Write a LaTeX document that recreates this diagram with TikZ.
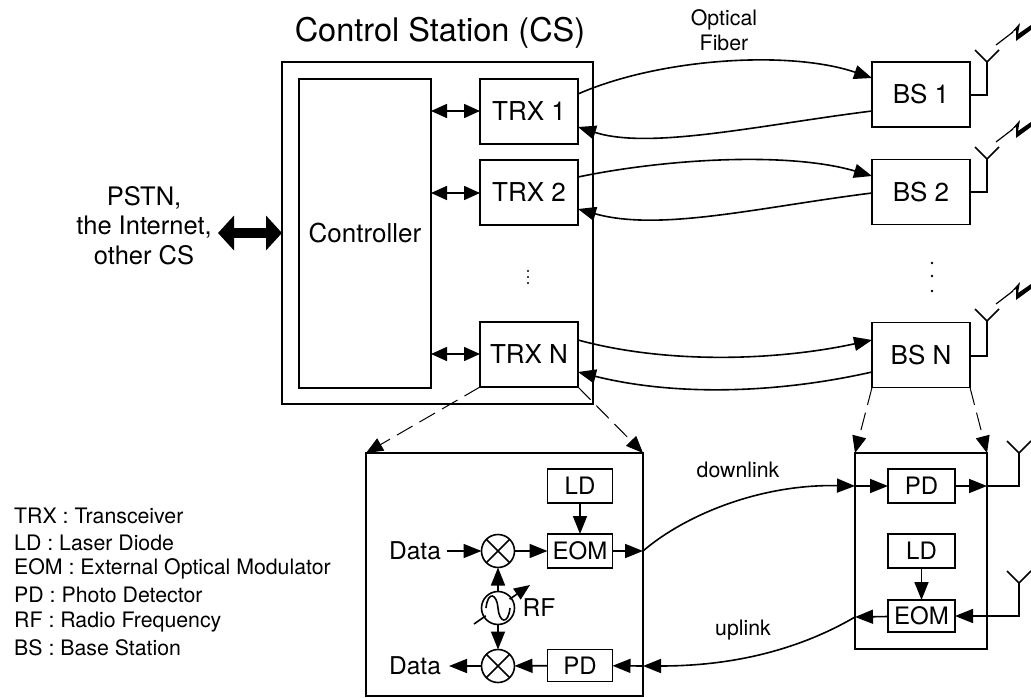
\documentclass[tikz,border=0pt]{standalone}
\usepackage{fontspec}
\setmainfont{TeX Gyre Heros}
\usetikzlibrary{arrows.meta}

\tikzset{
  blk/.style={draw,line width=1.6pt,inner sep=0pt,outer sep=0pt,rectangle,font=\fontsize{26}{26}\selectfont},
  smallblk/.style={blk,font=\fontsize{24}{24}\selectfont},
  mix/.style={draw,line width=1.6pt,circle,minimum size=33pt,inner sep=0pt,outer sep=0pt},
  lbl/.style={inner sep=0pt,font=\fontsize{25.5}{25.5}\selectfont},
  note/.style={inner sep=0pt,font=\fontsize{21.3}{21.3}\selectfont},
  wire/.style={line width=1.6pt},
  tip/.style={wire,-{Triangle[length=18pt,width=14pt]}},
  tips/.style={wire,{Triangle[length=16pt,width=14pt]}-{Triangle[length=16pt,width=14pt]}},
  zoomline/.style={line width=1pt,dash pattern=on 18pt off 8pt,-{Triangle[length=17pt,width=14pt]}},
}

\begin{document}
\begin{tikzpicture}[x=1pt,y=-1pt,line join=miter,line cap=butt]
\useasboundingbox (0,0) rectangle (1031,698);

% control station
\node[blk,minimum width=311pt,minimum height=342pt] (cs) at (437.5,233) {};
\node[blk,minimum width=132pt,minimum height=309pt] (ctrl) at (365,233.5) {Controller};
\node[blk,minimum width=98pt,minimum height=65pt] (trx1) at (529,111.5) {TRX 1};
\node[blk,minimum width=98pt,minimum height=65pt] (trx2) at (529,192.5) {TRX 2};
\node[blk,minimum width=98pt,minimum height=65pt] (trxn) at (529,354.5) {TRX N};

% base stations
\node[blk,minimum width=98pt,minimum height=65pt] (bs1) at (921,94.5) {BS 1};
\node[blk,minimum width=98pt,minimum height=65pt] (bs2) at (921,192) {BS 2};
\node[blk,minimum width=98pt,minimum height=65pt] (bsn) at (921,355) {BS N};

% transmitter detail
\node[blk,minimum width=277pt,minimum height=243pt] (txbox) at (504.5,574.5) {};
\node[smallblk,minimum width=65pt,minimum height=34pt] (ld1) at (580,486) {LD};
\node[smallblk,minimum width=65pt,minimum height=34pt] (eom1) at (580,551) {EOM};
\node[smallblk,minimum width=65pt,minimum height=32pt] (pd1) at (580,665.5) {PD};
\node[mix] (mix1) at (498,551) {};
\node[mix] (mix2) at (498,666) {};
\node[mix] (osc) at (498,608) {};

% base station detail
\node[blk,minimum width=132pt,minimum height=196pt] (rxbox) at (921,551) {};
\node[smallblk,minimum width=67pt,minimum height=34pt] (pd2) at (921.5,486) {PD};
\node[smallblk,minimum width=67pt,minimum height=34pt] (ld2) at (921.5,551) {LD};
\node[smallblk,minimum width=67pt,minimum height=32pt] (eom2) at (921.5,616) {EOM};

% texts
\node[lbl,font=\fontsize{32.5}{32.5}\selectfont] (title) at (440,33) {Control Station (CS)};
\node[lbl] (pstn) at (144,198) {PSTN,};
\node[lbl] (inet) at (144,227) {the Internet,};
\node[lbl] (other) at (144,255) {other CS};
\node[note] (opt) at (724,20) {Optical};
\node[note] (fib) at (724,43) {Fiber};
\node[note] (down) at (738,470) {downlink};
\node[note] (up) at (743,630) {uplink};
\node[lbl,font=\fontsize{24.5}{24.5}\selectfont] (data1) at (415,551) {Data};
\node[lbl,font=\fontsize{24.5}{24.5}\selectfont] (data2) at (415,666) {Data};
\node[lbl,font=\fontsize{24.5}{24.5}\selectfont] (rf) at (539,608) {RF};
\node[note,anchor=west] (key1) at (14,516) {TRX : Transceiver};
\node[note,anchor=west] (key2) at (14,543) {LD : Laser Diode};
\node[note,anchor=west] (key3) at (14,569) {EOM : External Optical Modulator};
\node[note,anchor=west] (key4) at (14,595) {PD : Photo Detector};
\node[note,anchor=west] (key5) at (14,622) {RF : Radio Frequency};
\node[note,anchor=west] (key6) at (14,648) {BS : Base Station};

% free ends
\coordinate (trx1o) at (578,94);
\coordinate (trx1i) at (578,127);
\coordinate (trx2o) at (578,177);
\coordinate (trx2i) at (578,209);
\coordinate (trxno) at (578,340);
\coordinate (trxni) at (578,372);
\coordinate (bs1i) at (872,78);
\coordinate (bs1o) at (872,111);
\coordinate (bs2i) at (872,176);
\coordinate (bs2o) at (872,193);
\coordinate (bsni) at (872,340);
\coordinate (bsno) at (872,372);
\coordinate (txo) at (643,551);
\coordinate (txi) at (643,666);
\coordinate (rxi) at (855,486);
\coordinate (rxo) at (855,617);
\coordinate (rxr1) at (987,486);
\coordinate (rxr2) at (987,616);
\coordinate (din) at (447,551);
\coordinate (dout) at (449,666);

% optical fibers
\draw[tip] (trx1o) .. controls (660,58) and (790,50) .. (bs1i);
\draw[tip] (bs1o) .. controls (760,125) and (650,150) .. (trx1i);
\draw[tip] (trx2o) .. controls (670,158) and (790,152) .. (bs2i);
\draw[tip] (bs2o) .. controls (760,207) and (660,232) .. (trx2i);
\draw[tip] (trxno) .. controls (670,365) and (780,360) .. (bsni);
\draw[tip] (bsno) .. controls (770,395) and (670,395) .. (trxni);

% controller links
\foreach \i/\y in {1/111,2/193,n/354}{
  \coordinate (cl\i) at (431,\y);
  \coordinate (tl\i) at (480,\y);
  \draw[tips] (cl\i)--(tl\i);
}
\coordinate (outer) at (218,233);
\draw[line width=10pt,{Triangle[length=16pt,width=34pt]}-{Triangle[length=16pt,width=34pt]}] (outer)--(cs.west);

% zoom arrows
\draw[zoomline] (trxn.south west)--(txbox.north west);
\draw[zoomline] (trxn.south east)--(txbox.north east);
\draw[zoomline] (bsn.south west)--(rxbox.north west);
\draw[zoomline] (bsn.south east)--(rxbox.north east);

% transmitter links
\draw[tip] (din)--(mix1);
\draw[tip] (mix1)--(eom1);
\draw[tip] (ld1)--(eom1);
\draw[tip] (eom1)--(txo);
\draw[tip] (osc)--(mix1);
\draw[tip] (osc)--(mix2);
\draw[tip] (pd1)--(mix2);
\draw[tip] (mix2)--(dout);
\draw[wire] (mix1.45)--(mix1.225);
\draw[wire] (mix1.135)--(mix1.315);
\draw[wire] (mix2.45)--(mix2.225);
\draw[wire] (mix2.135)--(mix2.315);

% oscillator
\coordinate (oscs) at (474,624);
\coordinate (osce) at (530,585);
\coordinate (sinea) at (486,608);
\coordinate (sineb) at (510,608);
\draw[wire,-{Triangle[length=16pt,width=13pt]}] (oscs)--(osce);
\fill[white] (osc) circle (14.5pt);
\draw[wire] (sinea) .. controls (488,590) and (497,594) .. (498,608) .. controls (499,622) and (508,626) .. (sineb);

% detail fibers
\draw[tip] (txo) .. controls (685,515) and (760,484) .. (rxi);
\draw[tip] (rxi)--(pd2);
\draw[tip] (pd2)--(rxr1);
\draw[tip] (ld2)--(eom2);
\draw[tip] (rxr2)--(eom2);
\draw[tip] (eom2)--(rxo);
\draw[tip] (rxo) .. controls (790,655) and (720,666) .. (txi);
\draw[tip] (txi)--(pd1);

% antennas
\foreach \n/\bx/\by/\x/\y in {a1/970/95/987/62, a2/970/192/987/159, a3/970/356/987/321, a4/987/486/1019/453, a5/987/616/1019/583}{
  \coordinate (\n b) at (\bx,\by);
  \coordinate (\n t) at (\x,\y);
  \coordinate (\n l) at (\x-12,\y-12);
  \coordinate (\n r) at (\x+12,\y-12);
  \draw[wire] (\n b)-|(\n t);
  \draw[wire] (\n l)--(\n t)--(\n r);
}

% radio links
\foreach \x/\y in {987/62, 987/159, 987/321}{
  \draw[line width=1.2pt] (\x+9,\y-17)--(\x+26,\y-30);
  \fill (\x+24,\y-29)--(\x+33,\y-39)--(\x+31,\y-28)--(\x+44,\y-37)--(\x+44,\y-32)--(\x+29,\y-21)--(\x+29,\y-32)--cycle;
}

% dots
\foreach \y in {271,277,283}{
  \fill (528,\y) circle (1.2pt);
}
\foreach \y in {263,276,291}{
  \fill (932,\y) circle (1.3pt);
}

\end{tikzpicture}
\end{document}
